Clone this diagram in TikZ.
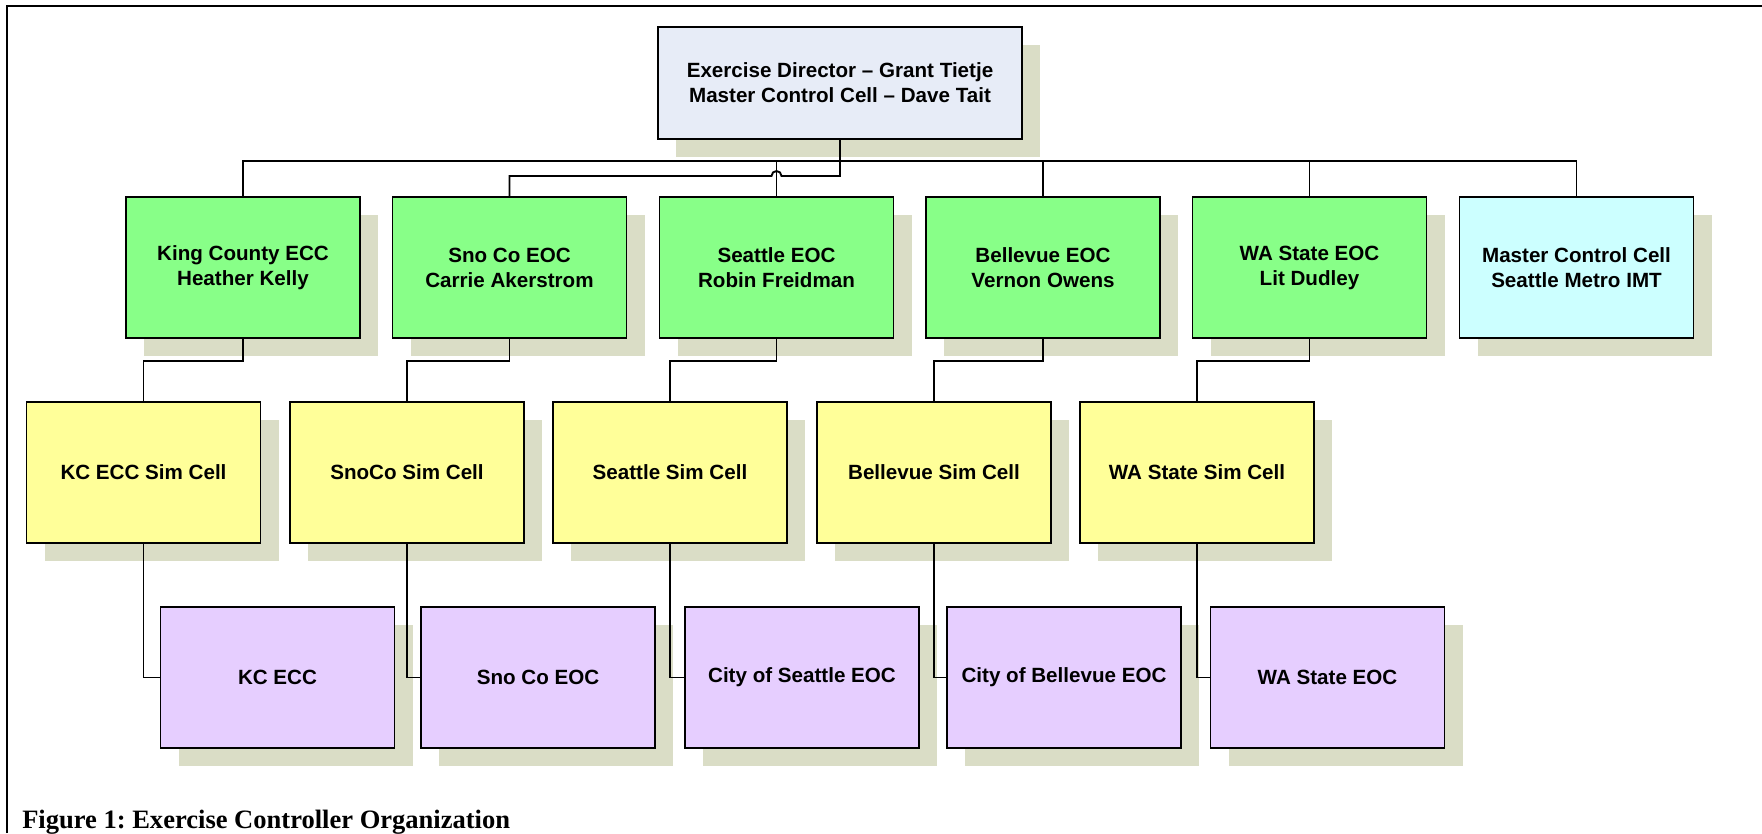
\documentclass[tikz,border=0pt]{standalone}
\usepackage{fontspec}
\setmainfont{Liberation Sans}
\newfontfamily\capfont{Liberation Serif}
\usetikzlibrary{shadows,calc}

\definecolor{dirfill}{RGB}{231,236,247}
\definecolor{eocfill}{RGB}{136,255,136}
\definecolor{simfill}{RGB}{255,255,153}
\definecolor{sitefill}{RGB}{230,206,255}
\definecolor{mccfill}{RGB}{204,255,255}
\definecolor{shadecol}{RGB}{218,221,198}

\begin{document}
\frenchspacing
\begin{tikzpicture}[x=0.75pt,y=0.75pt,yscale=-1,xscale=1,
	orgbox/.style={draw=black,line width=1.4pt,minimum width=175.5pt,minimum height=105.75pt,align=center,inner sep=2pt,
		font=\bfseries\fontsize{15.45}{18.75}\selectfont,
		drop shadow={shadow xshift=13.5pt,shadow yshift=-13.5pt,fill=shadecol,opacity=1}},
	link/.style={line width=1.4pt}]
		%set diagram frame: 1762 x 833
		\useasboundingbox (0,0) rectangle (1762,833);

		%Frame
		\draw [line width=1.5pt] (7,833) -- (7,5.7) -- (1762,5.7) ;

		%Shape: Rectangle [director]
		\draw (840,83) node (dir) [orgbox,fill=dirfill,minimum width=273pt,minimum height=84pt] {Exercise Director – Grant Tietje\\Master Control Cell – Dave Tait};

		%Shape: Rectangle [eoc row]
		\draw (243,267.5) node (kc) [orgbox,fill=eocfill] {King County ECC\\Heather Kelly};
		\draw (509.5,267.5) node (sno) [orgbox,fill=eocfill] {Sno Co EOC\\Carrie Akerstrom};
		\draw (776.5,267.5) node (sea) [orgbox,fill=eocfill] {Seattle EOC\\Robin Freidman};
		\draw (1043,267.5) node (bel) [orgbox,fill=eocfill] {Bellevue EOC\\Vernon Owens};
		\draw (1309.5,267.5) node (wa) [orgbox,fill=eocfill] {WA State EOC\\Lit Dudley};
		\draw (1576.5,267.5) node (mcc) [orgbox,fill=mccfill] {Master Control Cell\\Seattle Metro IMT};

		%Shape: Rectangle [sim cell row]
		\draw (143.5,472.5) node (kcsim) [orgbox,fill=simfill] {KC ECC Sim Cell};
		\draw (407,472.5) node (snosim) [orgbox,fill=simfill] {SnoCo Sim Cell};
		\draw (670,472.5) node (seasim) [orgbox,fill=simfill] {Seattle Sim Cell};
		\draw (934,472.5) node (belsim) [orgbox,fill=simfill] {Bellevue Sim Cell};
		\draw (1197,472.5) node (wasim) [orgbox,fill=simfill] {WA State Sim Cell};

		%Shape: Rectangle [site row]
		\draw (277.5,677.5) node (kcsite) [orgbox,fill=sitefill] {KC ECC};
		\draw (538,677.5) node (snosite) [orgbox,fill=sitefill] {Sno Co EOC};
		\draw (802,677.5) node (seasite) [orgbox,fill=sitefill] {City of Seattle EOC};
		\draw (1064,677.5) node (belsite) [orgbox,fill=sitefill] {City of Bellevue EOC};
		\draw (1327.5,677.5) node (wasite) [orgbox,fill=sitefill] {WA State EOC};

		%Bus lines
		\coordinate (bus) at (0,161);
		\coordinate (drop) at (0,176);
		\draw [link] (kc.north) |- (bus -| mcc.north) -- (mcc.north) ;
		\draw [link] (sea.north) -- (sea.north |- bus) ;
		\draw [link] (bel.north) -- (bel.north |- bus) ;
		\draw [link] (wa.north) -- (wa.north |- bus) ;
		\draw [link] (dir.south) |- ($(sea.north |- drop)+(5,0)$) arc [start angle=0,end angle=-180,radius=5] -| (sno.north) ;

		%Connections: eoc to sim cell
		\draw [link] (kc.south) -- ++(0,22) -| (kcsim.north) ;
		\draw [link] (sno.south) -- ++(0,22) -| (snosim.north) ;
		\draw [link] (sea.south) -- ++(0,22) -| (seasim.north) ;
		\draw [link] (bel.south) -- ++(0,22) -| (belsim.north) ;
		\draw [link] (wa.south) -- ++(0,22) -| (wasim.north) ;

		%Connections: sim cell to site
		\draw [link] (kcsim.south) |- (kcsite.west) ;
		\draw [link] (snosim.south) |- (snosite.west) ;
		\draw [link] (seasim.south) |- (seasite.west) ;
		\draw [link] (belsim.south) |- (belsite.west) ;
		\draw [link] (wasim.south) |- (wasite.west) ;

		% Text Node
		\draw (22,828) node (cap) [anchor=base west,inner sep=0pt,font=\capfont\bfseries\fontsize{19.9}{24}\selectfont] {Figure 1: Exercise Controller Organization};

\end{tikzpicture}
\end{document}
